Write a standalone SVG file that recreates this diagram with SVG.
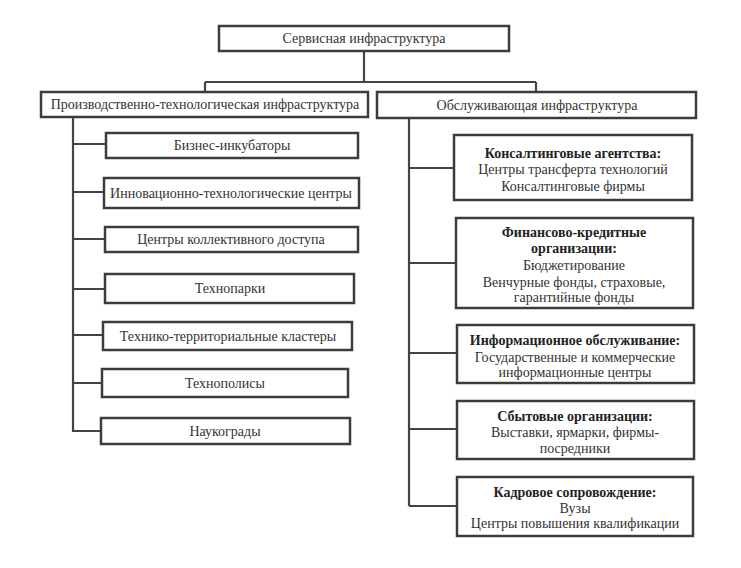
<svg xmlns="http://www.w3.org/2000/svg" width="741" height="568" viewBox="0 0 741 568">
<style>
.box{fill:#fff;stroke:#3c3c3c;stroke-width:2.5}
.ln{fill:none;stroke:#444;stroke-width:2.2}
text{font-family:"Liberation Serif","Times New Roman",serif;font-size:14px;fill:#333;text-anchor:middle}
.b{font-weight:bold;fill:#222}
</style>
<rect width="741" height="568" fill="#fff"/>
<g id="connectors">
<path class="ln" d="M364 51V82M205 82H536M205 82V92M536 82V92"/>
<path class="ln" d="M73 117V432M73 144H106M73 192H104M73 239H105M73 289H105M73 335H103M73 383H102M73 431H101"/>
<path class="ln" d="M409 118V506M409 168H454M409 263H456M409 353H457M409 429H457M409 506H457"/>
</g>
<g id="root"><rect class="box" x="219" y="26" width="290" height="25"/><text x="364" y="43">Сервисная инфраструктура</text></g>
<g id="prod"><rect class="box" x="41" y="92" width="327" height="25"/><text x="205" y="109">Производственно-технологическая инфраструктура</text></g>
<g id="obsl"><rect class="box" x="377" y="92" width="319" height="26"/><text x="537" y="110">Обслуживающая инфраструктура</text></g>
<g id="biz"><rect class="box" x="106" y="133" width="252" height="25"/><text x="232" y="150">Бизнес-инкубаторы</text></g>
<g id="innov"><rect class="box" x="104" y="178" width="255" height="30"/><text x="231" y="198">Инновационно-технологические центры</text></g>
<g id="ckd"><rect class="box" x="105" y="227" width="253" height="25"/><text x="231" y="244">Центры коллективного доступа</text></g>
<g id="tpark"><rect class="box" x="105" y="274" width="249" height="29"/><text x="230" y="293">Технопарки</text></g>
<g id="cluster"><rect class="box" x="103" y="322" width="249" height="28"/><text x="228" y="341">Технико-территориальные кластеры</text></g>
<g id="tpolis"><rect class="box" x="102" y="369" width="246" height="28"/><text x="225" y="388">Технополисы</text></g>
<g id="naukograd"><rect class="box" x="101" y="418" width="249" height="26"/><text x="225" y="436">Наукограды</text></g>
<g id="consult"><rect class="box" x="454" y="135" width="238" height="65"/>
<text class="b" x="573" y="158">Консалтинговые агентства:</text>
<text x="573" y="174">Центры трансферта технологий</text>
<text x="573" y="191">Консалтинговые фирмы</text></g>
<g id="fin"><rect class="box" x="456" y="218" width="237" height="90"/>
<text class="b" x="574" y="237">Финансово-кредитные</text>
<text class="b" x="574" y="253">организации:</text>
<text x="574" y="270">Бюджетирование</text>
<text x="574" y="287">Венчурные фонды, страховые,</text>
<text x="574" y="302">гарантийные фонды</text></g>
<g id="info"><rect class="box" x="457" y="325" width="237" height="58"/>
<text class="b" x="575" y="345">Информационное обслуживание:</text>
<text x="575" y="362">Государственные и коммерческие</text>
<text x="575" y="377">информационные центры</text></g>
<g id="sbyt"><rect class="box" x="457" y="401" width="237" height="58"/>
<text class="b" x="575" y="421">Сбытовые организации:</text>
<text x="575" y="437">Выставки, ярмарки, фирмы-</text>
<text x="575" y="453">посредники</text></g>
<g id="kadr"><rect class="box" x="457" y="477" width="236" height="59"/>
<text class="b" x="575" y="497">Кадровое сопровождение:</text>
<text x="575" y="513">Вузы</text>
<text x="575" y="528">Центры повышения квалификации</text></g>
</svg>
